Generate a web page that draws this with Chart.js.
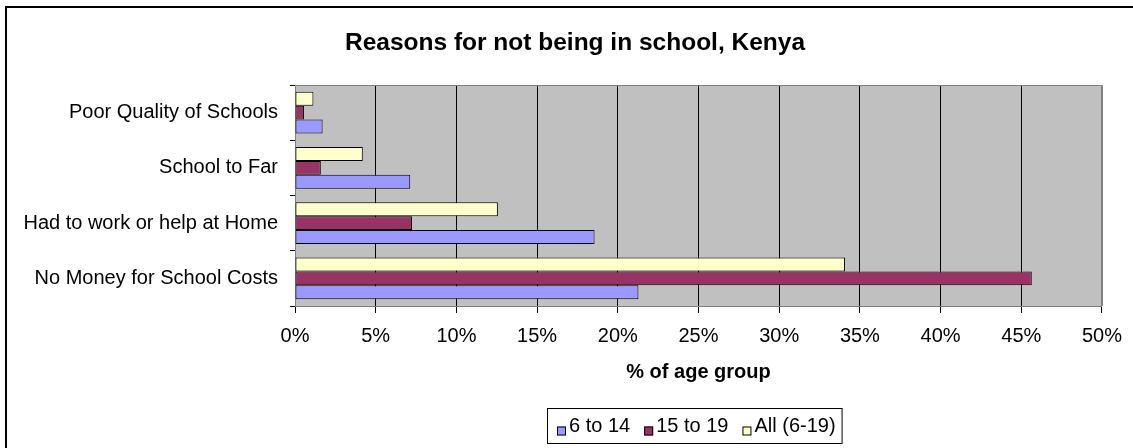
<!DOCTYPE html>
<html>
<head>
<meta charset="utf-8">
<script src="https://cdn.jsdelivr.net/npm/chart.js@4/dist/chart.umd.min.js"></script>
<style>
  html, body { margin: 0; padding: 0; background: #fff; overflow: hidden; }
  #wrap { position: relative; width: 1133px; height: 448px; }
  canvas { display: block; }
</style>
</head>
<body>
<div id="wrap"><canvas id="chart" width="1133" height="448"></canvas></div>
<script>
// Reasons (categories, listed top to bottom)
const reasons = [
  'Poor Quality of Schools',
  'School to Far',
  'Had to work or help at Home',
  'No Money for School Costs'
];

// Share of each age group (%)
const age6to14  = [1.71, 7.14, 18.56, 21.28];
const age15to19 = [0.56, 1.60, 7.25, 45.65];
const ageAll    = [1.14, 4.20, 12.57, 34.08];

// Value-axis tick labels
const xTickLabels = ['0%', '5%', '10%', '15%', '20%', '25%', '30%', '35%', '40%', '45%', '50%'];

const FONT = "'Liberation Sans', Arial, sans-serif";
Chart.defaults.font.family = FONT;
Chart.defaults.color = '#000';

// Gray plot background, plot frame and the outer chart border
const framePlugin = {
  id: 'frame',
  beforeDraw(chart) {
    const { ctx, chartArea: a } = chart;
    ctx.save();
    ctx.fillStyle = '#ffffff';
    ctx.fillRect(0, 0, chart.width, chart.height);
    ctx.fillStyle = '#c0c0c0';
    ctx.fillRect(a.left, a.top, a.right - a.left, a.bottom - a.top);
    // outer border (runs off the right and bottom edges)
    ctx.fillStyle = '#000';
    ctx.fillRect(5, 6, chart.width, 2);
    ctx.fillRect(5, 6, 2, chart.height);
    ctx.restore();
  },
  beforeDatasetsDraw(chart) {
    const { ctx, chartArea: a } = chart;
    ctx.save();
    ctx.strokeStyle = '#808080';
    ctx.lineWidth = 1;
    ctx.beginPath();
    ctx.moveTo(Math.round(a.left), Math.round(a.top) + 0.5);
    ctx.lineTo(Math.round(a.right) + 0.5, Math.round(a.top) + 0.5);
    ctx.lineTo(Math.round(a.right) + 0.5, Math.round(a.bottom));
    ctx.stroke();
    ctx.restore();
  }
};

// Boxed legend under the axis title, series in reverse drawing order
const boxedLegend = {
  id: 'boxedLegend',
  afterDraw(chart) {
    const { ctx, chartArea: a } = chart;
    const items = chart.data.datasets.slice().reverse();
    ctx.save();
    ctx.font = '20px ' + FONT;
    const sq = 9, gapSq = 3, gapItem = 14, padL = 10, padR = 6;
    let w = padL + padR;
    items.forEach((d, i) => {
      w += sq + gapSq + ctx.measureText(d.label).width + (i < items.length - 1 ? gapItem : 0);
    });
    const h = 35;
    const left = Math.round((a.left + a.right) / 2 - w / 2 - 4);
    const top = chart.height - 40;
    ctx.strokeStyle = '#000';
    ctx.lineWidth = 1;
    ctx.strokeRect(left + 0.5, top + 0.5, w, h);
    let x = left + padL;
    const cy = top + h / 2;
    ctx.textBaseline = 'middle';
    ctx.textAlign = 'left';
    items.forEach((d) => {
      ctx.fillStyle = d.backgroundColor;
      ctx.fillRect(x, cy + 1, sq, sq);
      ctx.strokeStyle = '#000';
      ctx.strokeRect(x + 0.5, cy + 1.5, sq - 1, sq - 1);
      x += sq + gapSq;
      ctx.fillStyle = '#000';
      ctx.fillText(d.label, x, cy + 1);
      x += ctx.measureText(d.label).width + gapItem;
    });
    ctx.restore();
  }
};

new Chart(document.getElementById('chart'), {
  type: 'bar',
  data: {
    labels: reasons,
    datasets: [
      { label: 'All (6-19)', data: ageAll,    backgroundColor: '#ffffcc' },
      { label: '15 to 19',   data: age15to19, backgroundColor: '#993366' },
      { label: '6 to 14',    data: age6to14,  backgroundColor: '#9999ff' }
    ]
  },
  options: {
    indexAxis: 'y',
    responsive: false,
    animation: false,
    devicePixelRatio: 1,
    layout: { padding: { left: 17, right: 0, top: 0, bottom: 0 } },
    datasets: {
      bar: {
        borderColor: '#000',
        borderWidth: 1,
        borderSkipped: false,
        categoryPercentage: 0.76,
        barPercentage: 1.0
      }
    },
    plugins: {
      legend: { display: false },
      tooltip: { enabled: false },
      title: {
        display: true,
        text: 'Reasons for not being in school, Kenya',
        color: '#000',
        font: { size: 24.5, weight: 'bold', family: FONT },
        padding: { top: 28.3, bottom: 27.3 }
      }
    },
    scales: {
      x: {
        type: 'linear',
        min: 0,
        max: 50,
        ticks: {
          stepSize: 5,
          color: '#000',
          font: { size: 20, family: FONT },
          padding: 11,
          maxRotation: 0,
          callback: (v, i) => xTickLabels[i]
        },
        grid: {
          color: (c) => (c.index === 0 || c.index === xTickLabels.length - 1) ? '#808080' : '#000',
          tickColor: '#000',
          tickLength: 7,
          lineWidth: 1
        },
        border: { color: '#808080' },
        title: {
          display: true,
          text: '% of age group',
          color: '#000',
          font: { size: 20, weight: 'bold', family: FONT },
          padding: { top: 0, bottom: 64 }
        },
        afterFit: (s) => { s.height = 142; }
      },
      y: {
        type: 'category',
        offset: true,
        ticks: {
          color: '#000',
          font: { size: 20, family: FONT },
          padding: 12
        },
        grid: {
          offset: true,
          drawOnChartArea: false,
          tickColor: '#000',
          tickLength: 5
        },
        border: { color: '#808080' },
        afterFit: (s) => { s.width = 278; }
      },
      // empty right-hand gutter beside the plot
      gutter: {
        type: 'linear',
        position: 'right',
        display: true,
        ticks: { display: false },
        grid: { display: false, drawTicks: false },
        border: { display: false },
        afterFit: (s) => { s.width = 28; }
      }
    }
  },
  plugins: [framePlugin, boxedLegend]
});
</script>
</body>
</html>
